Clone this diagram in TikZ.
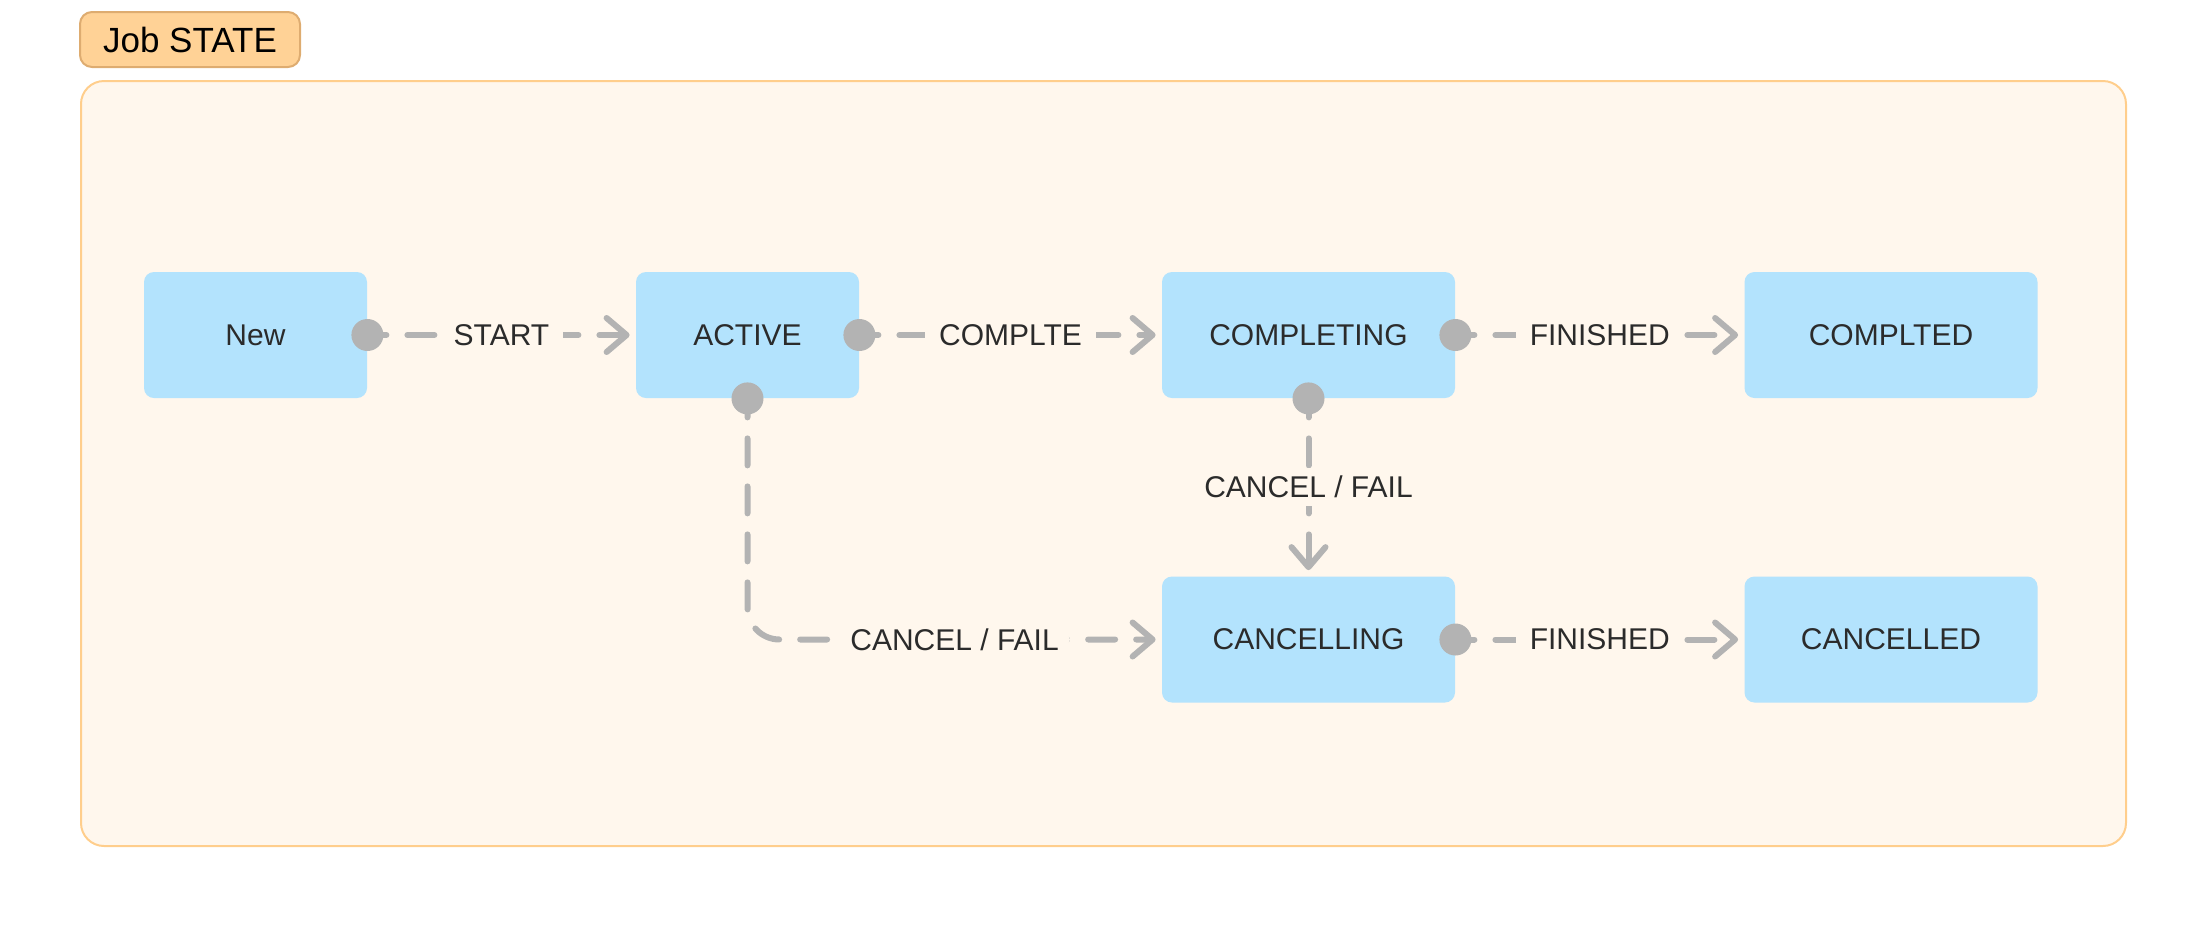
\documentclass[tikz,border=0pt]{standalone}
\usepackage{fontspec}
\setmainfont{Liberation Sans}
\usetikzlibrary{arrows.meta}
\definecolor{boxblue}{RGB}{179,227,253}
\definecolor{framefill}{RGB}{255,247,237}
\definecolor{framedraw}{RGB}{255,206,140}
\definecolor{tagfill}{RGB}{255,210,150}
\definecolor{tagdraw}{RGB}{222,172,112}
\definecolor{edgegray}{RGB}{179,179,179}
\definecolor{txt}{RGB}{43,43,43}
\begin{document}
\begin{tikzpicture}[x=0.5pt,y=-0.5pt,
  state/.style={rectangle, rounded corners=5pt, fill=boxblue, minimum height=63pt,
    text=txt, font=\fontsize{15}{18}\selectfont, inner sep=0pt},
  smallstate/.style={state, minimum width=111.5pt},
  bigstate/.style={state, minimum width=146.5pt},
  edge/.style={draw=edgegray, line width=3pt, line cap=round,
    dash pattern=on 13.5pt off 10.5pt, dash phase=4pt,
    -{Straight Barb[length=10pt,width=17pt,line width=3pt,round]}, shorten >=3pt},
  lbl/.style={fill=framefill, text=txt, font=\fontsize{15}{18}\selectfont,
    inner xsep=7pt, inner ysep=4pt},
  startdot/.style={fill=edgegray}
]
\useasboundingbox (0,0) rectangle (2208,928);
% frame
\node[draw=framedraw, fill=framefill, line width=1pt, rounded corners=11.5pt,
      minimum width=1022.5pt, minimum height=382.5pt, inner sep=0pt] (frame) at (1103.5,463.5) {};
\node[draw=tagdraw, fill=tagfill, line width=1pt, rounded corners=6pt,
      minimum width=110pt, minimum height=27.5pt, inner sep=0pt,
      font=\fontsize{17.5}{21}\selectfont] (tag) at (190,39.5) {Job STATE};
% states
\node[smallstate] (new) at (255.5,335) {New};
\node[smallstate] (active) at (747.5,335) {ACTIVE};
\node[bigstate] (completing) at (1308.5,335) {COMPLETING};
\node[smallstate, minimum width=146.5pt] (complted) at (1891,335) {COMPLTED};
\node[bigstate] (cancelling) at (1308.5,639.5) {CANCELLING};
\node[smallstate, minimum width=146.5pt] (cancelled) at (1891,639.5) {CANCELLED};
% edges
\draw[edge] (new.east) -- node[lbl]{START} (active.west);
\draw[edge] (active.east) -- node[lbl]{COMPLTE} (completing.west);
\draw[edge] (completing.east) -- node[lbl]{FINISHED} (complted.west);
\draw[edge] (completing.south) -- node[lbl]{CANCEL / FAIL} (cancelling.north);
\draw[edge, rounded corners=16pt] (active.south) |- node[lbl,pos=0.75]{CANCEL / FAIL} (cancelling.west);
\draw[edge] (cancelling.east) -- node[lbl]{FINISHED} (cancelled.west);
% start dots
\fill[startdot] (new.east) circle (8pt);
\fill[startdot] (active.east) circle (8pt);
\fill[startdot] (active.south) circle (8pt);
\fill[startdot] (completing.east) circle (8pt);
\fill[startdot] (completing.south) circle (8pt);
\fill[startdot] (cancelling.east) circle (8pt);
\end{tikzpicture}
\end{document}
